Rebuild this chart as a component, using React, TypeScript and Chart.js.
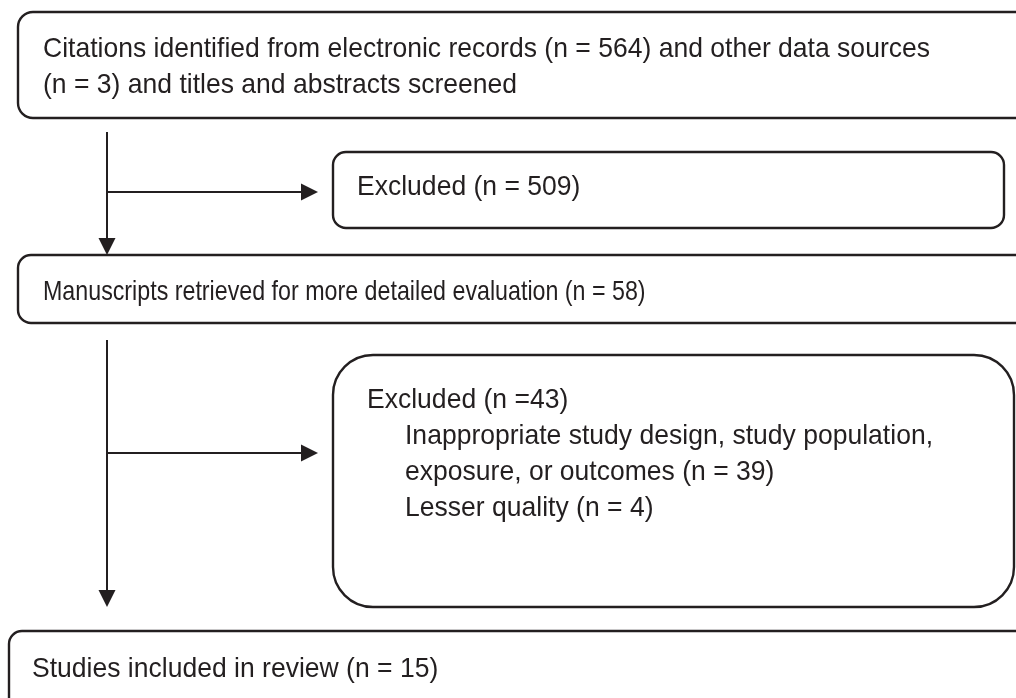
import React, { useEffect, useRef } from "react";
import { Chart, registerables } from "chart.js";

Chart.register(...registerables);

// ---- flow data (stages, counts, texts) ----
const identifiedElectronic = 564;
const identifiedOther = 3;
const excludedScreening = 509;
const retrieved = 58;
const excludedFullText = 43;
const excludedReasons = ["Inappropriate study design, study population,\nexposure, or outcomes", "Lesser quality"];
const excludedReasonCounts = [39, 4];
const included = 15;

const stageTexts = [
  [
    `Citations identified from electronic records (n = ${identifiedElectronic}) and other data sources`,
    `(n = ${identifiedOther}) and titles and abstracts screened`,
  ],
  [`Excluded (n = ${excludedScreening})`],
  [`Manuscripts retrieved for more detailed evaluation (n = ${retrieved})`],
  [`Excluded (n =${excludedFullText})`],
  [`Studies included in review (n = ${included})`],
];

// ---- layout (page coordinates, converted through the chart scales) ----
const W = 1016;
const H = 698;
const INK = "#231f20";
const FONT_PX = 28;
const LINE_H = 36;

const boxes = [
  { x0: 18, y0: 12, x1: 1040, y1: 118, r: 15, tx: 43, ty: 57, indent: 0, squeeze: 1 },
  { x0: 333, y0: 152, x1: 1004, y1: 228, r: 13, tx: 357, ty: 195, indent: 0, squeeze: 1 },
  { x0: 18, y0: 255, x1: 1040, y1: 323, r: 13, tx: 43, ty: 300, indent: 0, squeeze: 0.876 },
  { x0: 333, y0: 355, x1: 1014, y1: 607, r: 40, tx: 367, ty: 408, indent: 38, squeeze: 1 },
  { x0: 9, y0: 631, x1: 1040, y1: 740, r: 13, tx: 32, ty: 677, indent: 0, squeeze: 1 },
];

const arrows = [
  { x0: 107, y0: 132, x1: 107, y1: 255 },
  { x0: 107, y0: 192, x1: 318, y1: 192 },
  { x0: 107, y0: 340, x1: 107, y1: 607 },
  { x0: 107, y0: 453, x1: 318, y1: 453 },
];

const flowPlugin = {
  id: "flow",
  afterDraw(chart: any) {
    const ctx = chart.ctx as CanvasRenderingContext2D;
    const sx = chart.scales.x;
    const sy = chart.scales.y;
    const px = (v: number) => sx.getPixelForValue(v);
    const py = (v: number) => sy.getPixelForValue(v);
    ctx.save();
    ctx.font = `${FONT_PX}px "Liberation Sans", Arial, sans-serif`;
    const ref = stageTexts[0][0];
    const k = 887 / ctx.measureText(ref).width;

    // boxes
    ctx.strokeStyle = INK;
    ctx.lineWidth = 2.4;
    boxes.forEach((b) => {
      const x0 = px(b.x0), x1 = px(b.x1), y0 = py(b.y0), y1 = py(b.y1);
      ctx.beginPath();
      ctx.roundRect(x0, y0, x1 - x0, y1 - y0, b.r);
      ctx.stroke();
    });

    // arrows
    ctx.fillStyle = INK;
    ctx.lineWidth = 2;
    arrows.forEach((a) => {
      const x0 = px(a.x0), y0 = py(a.y0), x1 = px(a.x1), y1 = py(a.y1);
      const ang = Math.atan2(y1 - y0, x1 - x0);
      const hl = 17, hw = 8.5;
      const bx = x1 - Math.cos(ang) * hl, by = y1 - Math.sin(ang) * hl;
      ctx.beginPath();
      ctx.moveTo(x0, y0);
      ctx.lineTo(bx, by);
      ctx.stroke();
      ctx.beginPath();
      ctx.moveTo(x1, y1);
      ctx.lineTo(bx - Math.sin(ang) * hw, by + Math.cos(ang) * hw);
      ctx.lineTo(bx + Math.sin(ang) * hw, by - Math.cos(ang) * hw);
      ctx.closePath();
      ctx.fill();
    });

    // texts
    const drawText = (t: string, x: number, y: number, sq: number) => {
      ctx.save();
      ctx.translate(px(x), py(y));
      ctx.scale(k * sq, 1);
      ctx.fillText(t, 0, 0);
      ctx.restore();
    };
    ctx.textBaseline = "alphabetic";
    ctx.textAlign = "left";
    stageTexts.forEach((lines, i) => {
      const b = boxes[i];
      lines.forEach((ln, j) => drawText(ln, b.tx, b.ty + j * LINE_H, b.squeeze));
    });
    // reasons inside second exclusion box
    const b = boxes[3];
    let row = 1;
    excludedReasons.forEach((reason, i) => {
      const parts = reason.split("\n");
      parts[parts.length - 1] += ` (n = ${excludedReasonCounts[i]})`;
      parts.forEach((p) => {
        drawText(p, b.tx + b.indent, b.ty + row * LINE_H, b.squeeze);
        row++;
      });
    });
    ctx.restore();
  },
};

export default function App() {
  const ref = useRef<HTMLCanvasElement | null>(null);
  useEffect(() => {
    document.body.style.margin = "0";
    const chart = new Chart(ref.current!, {
      type: "scatter",
      data: { datasets: [{ data: [], pointRadius: 0 }] },
      options: {
        animation: false,
        responsive: false,
        events: [],
        layout: { padding: 0 },
        plugins: { legend: { display: false }, tooltip: { enabled: false } },
        scales: {
          x: { type: "linear", min: 0, max: W, display: false },
          y: { type: "linear", min: 0, max: H, reverse: true, display: false },
        },
      },
      plugins: [flowPlugin],
    });
    return () => chart.destroy();
  }, []);
  return (
    <div style={{ width: W, height: H, background: "#fff" }}>
      <canvas ref={ref} width={W} height={H} style={{ display: "block" }} />
    </div>
  );
}
